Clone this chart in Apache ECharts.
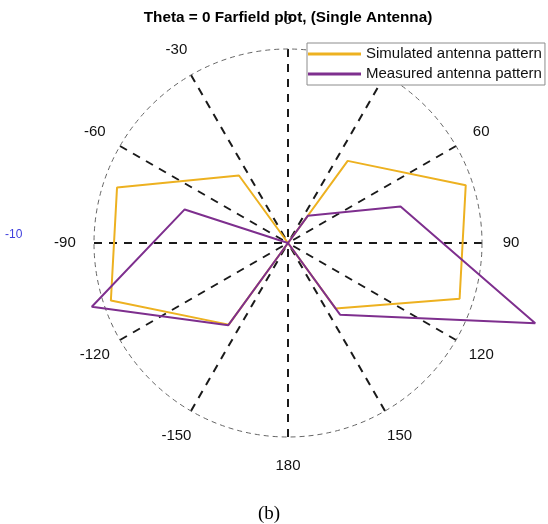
<!DOCTYPE html>
<html>
<head>
<meta charset="utf-8">
<script src="https://cdn.jsdelivr.net/npm/echarts@6/dist/echarts.min.js"></script>
<style>html,body{margin:0;padding:0;background:#fff}#c{width:548px;height:524px}</style>
</head>
<body>
<div id="c"></div>
<script>
// angles in degrees, clockwise from top (0..360; >180 shown as negative)
const angles = [0, 36, 72, 108, 144, 180, 216, 252, 288, 324, 360];
// radial values (dB-like units; -40 = centre, -10 = outer circle)
const simulated = [-40, -24.3, -11.1, -12.1, -27.5, -40, -24.4, -11.2, -12.2, -27.1, -40];
const measured  = [-40, -34.8, -21.7, 0.2, -26.3, -40, -24.3, -8.1, -23.2, -40, -40];
const seriesNames = ['Simulated antenna pattern', 'Measured antenna pattern'];
const angleTicks = [0, 30, 60, 90, 120, 150, 180, 210, 240, 270, 300, 330];
const angleTickLabels = ['0', '30', '60', '90', '120', '150', '180', '-150', '-120', '-90', '-60', '-30'];
const radialMin = -40, radialMax = -10;
const radialLabel = '-10';
const labelRadiusValue = -5.5;   // angle labels sit just outside the -10 circle

const chart = echarts.init(document.getElementById('c'), null, {renderer: 'canvas'});
const FONT = '"Liberation Sans", Arial, sans-serif';
function pairs(vals) { return vals.map((v, i) => [v, angles[i]]); }

const R = 194;
const extMax = 5;  // data polar extends beyond the outer circle so nothing is clamped
const R2 = R * (extMax - radialMin) / (radialMax - radialMin);

chart.setOption({
  backgroundColor: '#fff',
  animation: false,
  title: [{
    text: 'Theta = 0 Farfield plot, (Single Antenna)',
    left: 283, top: 5, textAlign: 'center',
    textStyle: {fontFamily: FONT, fontSize: 15.3, fontWeight: 'bold', color: '#000'}
  }],
  legend: {
    orient: 'vertical', left: 307, top: 43,
    padding: [3, 3, 3, 1], itemGap: 4,
    itemWidth: 53, itemHeight: 3, icon: 'rect',
    backgroundColor: '#fff', borderColor: '#8c8c8c', borderWidth: 1,
    textStyle: {fontFamily: FONT, fontSize: 15, color: '#111', lineHeight: 16},
    data: seriesNames
  },
  polar: [
    {center: [288, 243], radius: R},
    {center: [288, 243], radius: R2}
  ],
  angleAxis: [{
    polarIndex: 0,
    type: 'value', min: 0, max: 360, interval: 30,
    startAngle: 90, clockwise: true,
    axisLine: {show: true, lineStyle: {color: '#666', width: 1, type: [5, 4]}},
    axisTick: {show: false},
    splitLine: {show: true, lineStyle: {color: '#1a1a1a', width: 2, type: [8, 7]}},
    axisLabel: {show: false}
  }, {
    polarIndex: 1,
    type: 'value', min: 0, max: 360, interval: 30,
    startAngle: 90, clockwise: true, show: false
  }],
  radiusAxis: [
    {polarIndex: 0, min: radialMin, max: radialMax, show: false},
    {polarIndex: 1, min: radialMin, max: extMax, show: false}
  ],
  graphic: [
    {type: 'text', left: 5, top: 229,
     style: {text: radialLabel, fontFamily: FONT, fontSize: 12, fill: '#4040dd'}},
    {type: 'text', left: 258, top: 505,
     style: {text: '(b)', fontFamily: '"Liberation Serif", "Times New Roman", serif', fontSize: 19, fill: '#000'}}
  ],
  series: [
    {name: seriesNames[0], type: 'line', coordinateSystem: 'polar', polarIndex: 1, data: pairs(simulated),
     symbol: 'none', clip: false, color: '#EDB120', lineStyle: {width: 2, color: '#EDB120'}, z: 3},
    {name: seriesNames[1], type: 'line', coordinateSystem: 'polar', polarIndex: 1, data: pairs(measured),
     symbol: 'none', clip: false, color: '#7E2F8E', lineStyle: {width: 2, color: '#7E2F8E'}, z: 4},
    {name: 'angle labels', type: 'scatter', coordinateSystem: 'polar', polarIndex: 1, silent: true,
     clip: false, symbol: 'circle', symbolSize: 1,
     itemStyle: {color: 'rgba(255,255,255,0)', opacity: 1},
     data: angleTicks.map((a, i) => ({value: [labelRadiusValue, a], name: angleTickLabels[i]})),
     label: {show: true, position: 'inside', formatter: p => p.name, opacity: 1,
             textBorderWidth: 0, fontFamily: FONT, fontSize: 15, color: '#111'}, z: 2}
  ]
});
</script>
</body>
</html>
